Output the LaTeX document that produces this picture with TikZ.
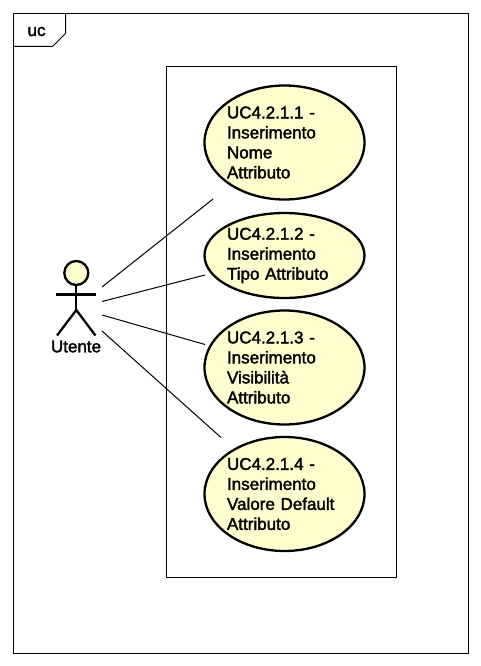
\documentclass[tikz,border=0pt]{standalone}
\usepackage{fontspec}
\setmainfont[FakeBold=2]{Liberation Sans}
\usetikzlibrary{shapes.geometric}
\definecolor{ucfill}{HTML}{FEFECE}
\tikzset{
  boxline/.style={draw=black,line width=1pt},
  conn/.style={draw=black,line width=1pt},
  usecase/.style={ellipse,draw=black,line width=2.3pt,fill=ucfill,inner sep=0pt,minimum width=160pt},
  uctext/.style={font=\fontsize{17}{20}\selectfont,align=left,text width=115pt,inner sep=0pt},
  actorline/.style={draw=black,line width=2.3pt},
  plain/.style={font=\fontsize{17}{20}\selectfont,inner sep=0pt}
}
\begin{document}
\begin{tikzpicture}[x=1pt,y=-1pt]
\useasboundingbox (0,0) rectangle (481,666);
\fill[white] (0,0) rectangle (481,666);
% frame
\draw[boxline] (13.5,13.5) rectangle (468.5,653.5);
\draw[boxline] (13.5,46.5) -- (52.5,46.5) -- (65.5,33.5) -- (65.5,13.5);
\node[plain] (uc) at (36.5,31.5) {uc};
% system boundary
\draw[boxline] (166.5,66.5) rectangle (396.5,577.5);
% use cases
\node[usecase,minimum height=114pt,label={[uctext,name=t1]center:UC4.2.1.1 -\\Inserimento\\Nome\\Attributo}] (u1) at (284.5,142.5) {};
\node[usecase,minimum height=85pt,label={[uctext,name=t2]center:UC4.2.1.2 -\\Inserimento\\Tipo Attributo}] (u2) at (284.5,255.5) {};
\node[usecase,minimum height=114pt,label={[uctext,name=t3]center:UC4.2.1.3 -\\Inserimento\\Visibilità\\Attributo}] (u3) at (284.5,367.5) {};
\node[usecase,minimum height=114pt,label={[uctext,name=t4]center:UC4.2.1.4 -\\Inserimento\\Valore Default\\Attributo}] (u4) at (284.5,494) {};
% actor
\node[circle,draw=black,line width=2.3pt,fill=ucfill,minimum size=24pt,inner sep=0pt] (head) at (76.3,273) {};
\coordinate (hip) at (76.3,310);
\coordinate (armL) at (56,294.5);
\coordinate (armR) at (96,294.5);
\coordinate (legL) at (57,335.5);
\coordinate (legR) at (95.5,335.5);
\draw[actorline] (head.south) -- (hip);
\draw[actorline] (armL) -- (armR);
\draw[actorline] (legL) -- (hip) -- (legR);
\node[plain] (utente) at (76,346.5) {Utente};
% connector ends
\coordinate (a1) at (102,287);
\coordinate (a2) at (102,301.5);
\coordinate (a3) at (102,315);
\coordinate (a4) at (102,331);
\coordinate (e1) at (213,199);
\coordinate (e2) at (205,275);
\coordinate (e3) at (205,344.5);
\coordinate (e4) at (221,437.5);
\draw[conn] (a1) -- (e1);
\draw[conn] (a2) -- (e2);
\draw[conn] (a3) -- (e3);
\draw[conn] (a4) -- (e4);
\end{tikzpicture}
\end{document}
